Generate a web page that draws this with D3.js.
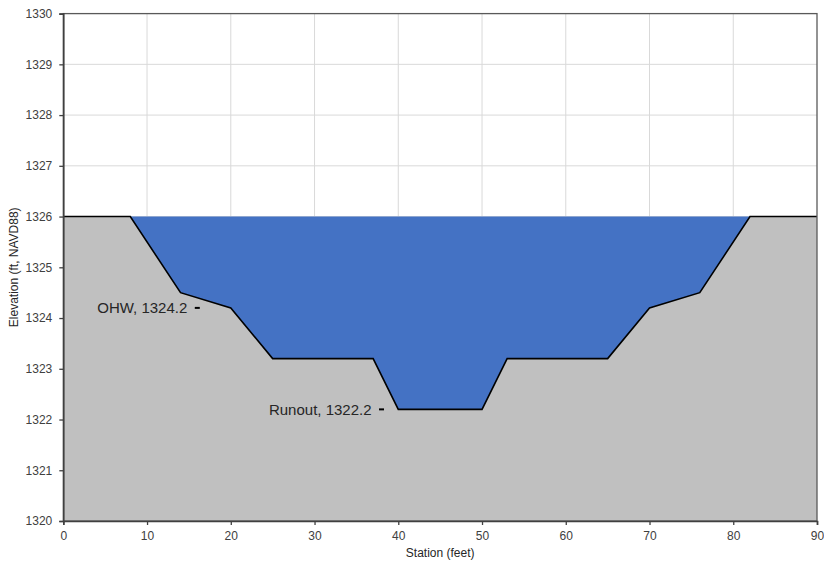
<!DOCTYPE html>
<html>
<head>
<meta charset="utf-8">
<script src="https://cdn.jsdelivr.net/npm/d3@7"></script>
<style>
  html, body { margin: 0; padding: 0; background: #ffffff; }
  svg { display: block; font-family: "Liberation Sans", Arial, sans-serif; }
</style>
</head>
<body>
<svg id="chart" width="824" height="565"></svg>
<script>
// Channel cross-section: ground profile (station in feet, elevation in ft NAVD88)
const stations   = [0, 8, 14, 20, 25, 37, 40, 50, 53, 65, 70, 76, 82, 90];
const elevations = [1326, 1326, 1324.5, 1324.2, 1323.2, 1323.2, 1322.2, 1322.2, 1323.2, 1323.2, 1324.2, 1324.5, 1326, 1326];

// Water surface elevation and its extent across the section
const waterSurface = 1326;
const waterStart = 8;
const waterEnd = 82;

// Annotated elevations
const labelStations = [16, 38];
const labelElevations = [1324.2, 1322.2];
const labelTexts = ["OHW, 1324.2", "Runout, 1322.2"];

// Axis ticks
const xTicks = [0, 10, 20, 30, 40, 50, 60, 70, 80, 90];
const yTicks = [1320, 1321, 1322, 1323, 1324, 1325, 1326, 1327, 1328, 1329, 1330];

const width = 824, height = 565;
const margin = { top: 13.6, right: 7, bottom: 44, left: 63.3 };
const iw = width - margin.left - margin.right;
const ih = height - margin.top - margin.bottom;

const svg = d3.select("#chart");
const g = svg.append("g").attr("transform", `translate(${margin.left},${margin.top})`);

const x = d3.scaleLinear().domain([0, 90]).range([0, iw]);
const y = d3.scaleLinear().domain([1320, 1330]).range([ih, 0]);

const profile = stations.map((s, i) => ({ s, e: elevations[i] }));

// Gridlines
g.append("g").selectAll("line").data(xTicks.slice(1, -1)).join("line")
  .attr("x1", d => x(d)).attr("x2", d => x(d))
  .attr("y1", 0).attr("y2", ih)
  .attr("stroke", "#d9d9d9").attr("stroke-width", 1);
g.append("g").selectAll("line").data(yTicks.slice(1, -1)).join("line")
  .attr("x1", 0).attr("x2", iw)
  .attr("y1", d => y(d)).attr("y2", d => y(d))
  .attr("stroke", "#d9d9d9").attr("stroke-width", 1);

// Ground fill below the profile
g.append("path")
  .datum(profile)
  .attr("fill", "#c0c0c0")
  .attr("d", d3.area().x(d => x(d.s)).y0(y(1320)).y1(d => y(d.e)));

// Water fill between the water surface and the channel bed
const wet = profile.filter(d => d.s >= waterStart && d.s <= waterEnd);
g.append("path")
  .datum(wet)
  .attr("fill", "#4472c4")
  .attr("d", d3.area().x(d => x(d.s)).y0(y(waterSurface)).y1(d => y(d.e)));

// Ground profile line
g.append("path")
  .datum(profile)
  .attr("fill", "none")
  .attr("stroke", "#000")
  .attr("stroke-width", 1.6)
  .attr("stroke-linejoin", "miter")
  .attr("d", d3.line().x(d => x(d.s)).y(d => y(d.e)));

// Plot frame
g.append("rect")
  .attr("x", 0).attr("y", 0).attr("width", iw).attr("height", ih)
  .attr("fill", "none").attr("stroke", "#595959").attr("stroke-width", 1.3);

// Axes
const xAxis = g.append("g").attr("transform", `translate(0,${ih})`)
  .call(d3.axisBottom(x).tickValues(xTicks).tickSize(4).tickPadding(6).tickFormat(d3.format("d")));
const yAxis = g.append("g")
  .call(d3.axisLeft(y).tickValues(yTicks).tickSize(4).tickPadding(7).tickFormat(d3.format("d")));
[xAxis, yAxis].forEach(a => {
  a.select(".domain").attr("stroke", "#404040").attr("stroke-width", 1.6);
  a.selectAll(".tick line").attr("stroke", "#404040").attr("stroke-width", 1.3);
  a.selectAll(".tick text").attr("fill", "#404040")
    .style("font-family", "'Liberation Sans', Arial, sans-serif").style("font-size", "12px");
});

// Annotation markers and labels
const labels = labelStations.map((s, i) => ({ s, e: labelElevations[i], t: labelTexts[i] }));
g.append("g").selectAll("line").data(labels).join("line")
  .attr("x1", d => x(d.s) - 2.5).attr("x2", d => x(d.s) + 2.5)
  .attr("y1", d => y(d.e)).attr("y2", d => y(d.e))
  .attr("stroke", "#000").attr("stroke-width", 2);
g.append("g").selectAll("text").data(labels).join("text")
  .attr("x", d => x(d.s) - 10)
  .attr("y", d => y(d.e) + 5.3)
  .attr("text-anchor", "end")
  .attr("fill", "#262626")
  .style("font-size", "15px")
  .text(d => d.t);

// Axis titles
svg.append("text")
  .attr("x", margin.left + iw / 2)
  .attr("y", 557)
  .attr("text-anchor", "middle")
  .attr("fill", "#262626")
  .style("font-size", "12px")
  .text("Station (feet)");
svg.append("text")
  .attr("transform", `translate(18,${margin.top + ih / 2}) rotate(-90)`)
  .attr("text-anchor", "middle")
  .attr("fill", "#262626")
  .style("font-size", "12px")
  .text("Elevation (ft, NAVD88)");
</script>
</body>
</html>
